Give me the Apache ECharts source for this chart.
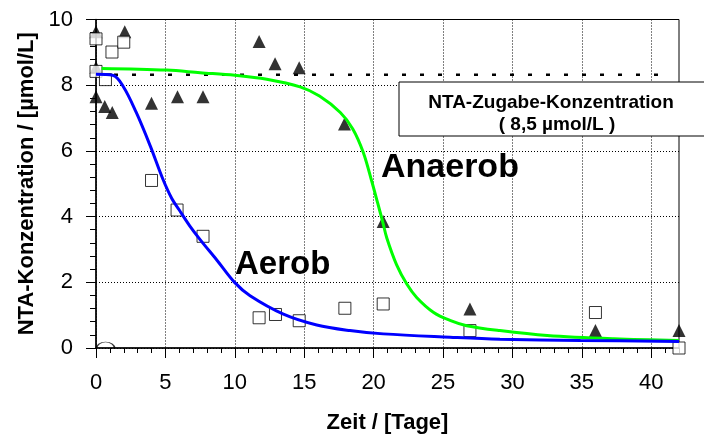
<!DOCTYPE html>
<html>
<head>
<meta charset="utf-8">
<script src="https://cdn.jsdelivr.net/npm/echarts@6/dist/echarts.min.js"></script>
<style>
html,body{margin:0;padding:0;background:#fff;}
#c{width:704px;height:439px;}
</style>
</head>
<body>
<div id="c"></div>
<script>
// ---- data ----
var xTickValues = [0, 5, 10, 15, 20, 25, 30, 35, 40];
var yTickValues = [0, 2, 4, 6, 8, 10];

// Anaerob measurements (filled triangles)
var triX = [0, 0, 0, 0.63, 1.17, 2.07, 4.0, 5.87, 7.71, 11.75, 12.9, 14.64, 17.9, 20.69, 26.94, 35.98, 42];
var triY = [9.63, 8.54, 7.65, 7.35, 7.17, 9.63, 7.45, 7.65, 7.65, 9.33, 8.65, 8.53, 6.82, 3.85, 1.19, 0.53, 0.53];

// Aerob measurements (open squares)
var sqX = [0, 0, 0.68, 1.15, 2.0, 4.0, 5.84, 7.71, 11.75, 12.93, 14.64, 17.93, 20.69, 26.94, 35.98, 42];
var sqY = [9.41, 8.42, 8.17, 9.01, 9.31, 5.10, 4.20, 3.40, 0.92, 1.02, 0.83, 1.21, 1.34, 0.53, 1.08, 0.0];

// Aerob fit curve (blue)
var blueX = [0, 1.2, 1.95, 2.9, 3.9, 4.8, 5.45, 6.0, 6.75, 7.5, 8.7, 10.0, 11.1, 13.5, 15.9, 18.3, 20.7, 25.5, 29.1, 34.9, 42];
var blueY = [8.33, 8.30, 7.97, 7.17, 6.16, 5.16, 4.56, 4.20, 3.72, 3.30, 2.68, 1.99, 1.59, 1.03, 0.70, 0.53, 0.43, 0.33, 0.27, 0.23, 0.20];

// Anaerob fit curve (green)
var greenX = [0.4, 5.1, 7.5, 10.0, 12.3, 14.7, 16.1, 17.6, 18.5, 19.25, 19.85, 20.3, 20.65, 20.95, 21.65, 22.4, 23.1, 24.3, 25.5, 26.7, 29.1, 32.5, 37.3, 42];
var greenY = [8.51, 8.46, 8.38, 8.30, 8.18, 7.95, 7.67, 7.17, 6.67, 5.96, 5.10, 4.40, 3.85, 3.35, 2.54, 1.94, 1.54, 1.09, 0.84, 0.68, 0.53, 0.38, 0.28, 0.23];

// dosage reference line (dotted)
var refX = [0, 41.2];
var refY = [8.32, 8.32];

// small arc artefact at the bottom-left
var arcX = [0.69];
var arcY = [0];

var labels = {
  yName: 'NTA-Konzentration / [\u00b5mol/L]',
  xName: 'Zeit / [Tage]',
  boxLine1: 'NTA-Zugabe-Konzentration',
  boxLine2: '( 8,5 \u00b5mol/L )',
  anaerob: 'Anaerob',
  aerob: 'Aerob'
};

function zip(a, b) { return a.map(function (v, i) { return [v, b[i]]; }); }

var FONT = "'Liberation Sans', Arial, sans-serif";
var chart = echarts.init(document.getElementById('c'), null, {renderer: 'canvas'});

var option = {
  backgroundColor: '#fff',
  animation: false,
  grid: {
    left: 96, right: 25, top: 19.5, bottom: 88,
    show: true, borderColor: '#000', borderWidth: 1, backgroundColor: 'transparent'
  },
  xAxis: [
    {
      type: 'value', min: 0, max: 42, interval: 1, position: 'bottom',
      axisLine: {show: true, onZero: false, lineStyle: {color: '#000', width: 1.5}},
      axisTick: {show: true, length: 5, lineStyle: {color: '#000', width: 1}},
      axisLabel: {show: false},
      splitLine: {show: false}
    },
    {
      type: 'value', min: 0, max: 42, interval: 5, position: 'bottom',
      name: labels.xName, nameLocation: 'middle', nameGap: 64,
      nameTextStyle: {fontFamily: FONT, fontWeight: 'bold', fontSize: 22, color: '#000'},
      axisLine: {show: false, onZero: false},
      axisTick: {show: true, length: 10, customValues: xTickValues, lineStyle: {color: '#000', width: 1}},
      axisLabel: {show: true, customValues: xTickValues, margin: 24, fontFamily: FONT, fontSize: 22, color: '#000'},
      splitLine: {show: true, lineStyle: {color: '#000', width: 1, type: [1, 2]}}
    }
  ],
  yAxis: [{
    type: 'value', min: 0, max: 10, interval: 2,
    name: labels.yName, nameLocation: 'middle', nameGap: 46, nameRotate: 90,
    nameTextStyle: {fontFamily: FONT, fontWeight: 'bold', fontSize: 22, color: '#000'},
    axisLine: {show: true, onZero: false, lineStyle: {color: '#000', width: 1.5}},
    axisTick: {show: true, length: 10, lineStyle: {color: '#000', width: 1}},
    minorTick: {show: true, splitNumber: 5, length: 6, lineStyle: {color: '#000', width: 1}},
    axisLabel: {margin: 23, fontFamily: FONT, fontSize: 22, color: '#000'},
    splitLine: {show: true, lineStyle: {color: '#000', width: 1, type: [1, 2]}}
  }],
  series: [
    {
      type: 'line', data: zip(refX, refY), xAxisIndex: 0, symbol: 'none',
      lineStyle: {color: '#000', width: 2.5, type: [4, 14]}, z: 2
    },
    {
      type: 'scatter', data: zip(arcX, arcY), xAxisIndex: 0,
      symbol: 'path://M0,10 A10,10 0 0 1 20,10', symbolSize: [18, 6], symbolOffset: [0, -3],
      itemStyle: {color: 'transparent', borderColor: '#000', borderWidth: 1}, z: 3
    },
    {
      type: 'scatter', data: zip(triX, triY), xAxisIndex: 0,
      symbol: 'triangle', symbolSize: 13,
      itemStyle: {color: '#000'}, z: 3
    },
    {
      type: 'scatter', data: zip(sqX, sqY), xAxisIndex: 0,
      symbol: 'rect', symbolSize: 12,
      itemStyle: {color: '#fff', borderColor: '#000', borderWidth: 1}, z: 4
    },
    {
      type: 'line', data: zip(greenX, greenY), xAxisIndex: 0, symbol: 'none',
      smooth: 0.35,
      lineStyle: {color: '#00ff00', width: 3}, z: 5
    },
    {
      type: 'line', data: zip(blueX, blueY), xAxisIndex: 0, symbol: 'none',
      smooth: 0.35,
      lineStyle: {color: '#0000ff', width: 3}, z: 6
    }
  ],
  graphic: [
    {
      type: 'rect', z: 50, shape: {x: 399, y: 82, width: 320, height: 54},
      style: {fill: '#fff', stroke: '#000', lineWidth: 1}
    },
    {
      type: 'text', z: 51, x: 551, y: 102.5,
      style: {text: labels.boxLine1, font: 'bold 19px ' + FONT, fill: '#000', align: 'center', verticalAlign: 'middle'}
    },
    {
      type: 'text', z: 51, x: 557, y: 125,
      style: {text: labels.boxLine2, font: 'bold 19px ' + FONT, fill: '#000', align: 'center', verticalAlign: 'middle'}
    },
    {
      type: 'text', z: 51, x: 381, y: 167.5,
      style: {text: labels.anaerob, font: 'bold 34px ' + FONT, fill: '#000', align: 'left', verticalAlign: 'middle'}
    },
    {
      type: 'text', z: 51, x: 235, y: 265,
      style: {text: labels.aerob, font: 'bold 33px ' + FONT, fill: '#000', align: 'left', verticalAlign: 'middle'}
    }
  ]
};
chart.setOption(option);
</script>
</body>
</html>
